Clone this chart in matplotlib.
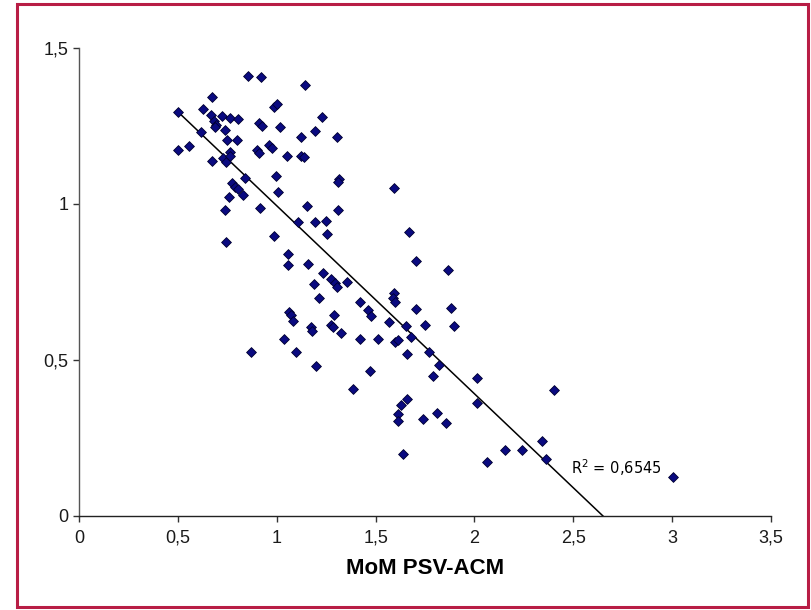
import matplotlib
matplotlib.use("Agg")
from matplotlib import pyplot as plt
from matplotlib.patches import Rectangle

# valores (MoM PSV-ACM en x, eje y sin título)
mom_psv_acm = [
    0.855, 0.921, 1.143, 0.673, 0.501, 0.627, 0.668, 0.683, 0.693, 0.688,
    0.723, 0.764, 0.804, 0.738, 0.617, 0.749, 0.799, 0.501, 0.556, 0.673,
    0.728, 0.744, 0.764, 0.764, 0.986, 1.002, 0.910, 0.926, 1.017, 1.229,
    1.194, 1.123, 1.305, 0.900, 0.910, 0.961, 0.976, 1.052, 1.123, 1.138,
    0.840, 0.774, 0.789, 0.804, 0.830, 0.759, 0.738, 0.916, 0.996, 1.007,
    1.153, 1.315, 1.310, 1.310, 1.108, 1.194, 1.249, 1.254, 0.986, 0.744,
    1.593, 1.669, 1.057, 1.057, 1.158, 1.234, 1.275, 1.295, 1.305, 1.356,
    1.189, 1.214, 1.705, 1.866, 1.593, 1.588, 1.598, 1.421, 1.462, 1.477,
    1.705, 1.882, 1.062, 1.072, 1.082, 1.290, 1.568, 1.654, 1.750, 1.897,
    1.173, 1.179, 1.275, 1.285, 1.325, 1.679, 1.037, 1.421, 1.512, 1.598,
    1.614, 1.659, 1.770, 1.098, 0.870, 1.199, 1.472, 1.821, 1.791, 2.013,
    1.386, 1.659, 1.629, 1.614, 1.614, 1.740, 1.811, 1.856, 1.639, 2.013,
    2.403, 2.064, 2.155, 2.241, 2.342, 2.362, 3.005,
]
y_values = [
    1.410, 1.407, 1.381, 1.343, 1.295, 1.304, 1.285, 1.266, 1.253, 1.247,
    1.282, 1.276, 1.272, 1.237, 1.231, 1.205, 1.205, 1.173, 1.186, 1.138,
    1.147, 1.135, 1.167, 1.154, 1.311, 1.321, 1.260, 1.250, 1.247, 1.279,
    1.234, 1.215, 1.215, 1.173, 1.163, 1.189, 1.179, 1.154, 1.154, 1.151,
    1.083, 1.067, 1.054, 1.048, 1.029, 1.022, 0.981, 0.987, 1.090, 1.038,
    0.994, 1.080, 1.071, 0.981, 0.942, 0.942, 0.946, 0.904, 0.897, 0.878,
    1.051, 0.910, 0.840, 0.804, 0.808, 0.779, 0.760, 0.747, 0.734, 0.750,
    0.744, 0.699, 0.817, 0.788, 0.715, 0.699, 0.686, 0.686, 0.660, 0.641,
    0.663, 0.667, 0.654, 0.644, 0.625, 0.644, 0.622, 0.609, 0.612, 0.609,
    0.606, 0.593, 0.612, 0.606, 0.587, 0.574, 0.567, 0.567, 0.567, 0.558,
    0.564, 0.519, 0.526, 0.526, 0.526, 0.481, 0.465, 0.484, 0.449, 0.442,
    0.407, 0.375, 0.356, 0.327, 0.304, 0.311, 0.330, 0.298, 0.199, 0.362,
    0.404, 0.173, 0.212, 0.212, 0.240, 0.183, 0.125,
]

# recta de tendencia
trend_slope = -0.6026
trend_intercept = 1.597
r2_label = r"R$^2$ = 0,6545"

x_ticks = [0, 0.5, 1, 1.5, 2, 2.5, 3, 3.5]
x_tick_labels = ["0", "0,5", "1", "1,5", "2", "2,5", "3", "3,5"]
y_ticks = [0, 0.5, 1, 1.5]
y_tick_labels = ["0", "0,5", "1", "1,5"]

plt.rcParams["font.family"] = ["Liberation Sans", "DejaVu Sans"]

fig = plt.figure(figsize=(8.11, 6.10), dpi=100)
fig.patch.set_facecolor("white")

# marco rojo alrededor del gráfico
frame = Rectangle((17 / 811, 3 / 610), 791 / 811, 603 / 610, transform=fig.transFigure,
                  fill=False, edgecolor="#b81d45", linewidth=2.2)
fig.patches.append(frame)

ax = fig.add_axes([79 / 811, 94 / 610, 692 / 811, 468 / 610])

ax.scatter(mom_psv_acm, y_values, marker="D", s=25, color="#0a0a80",
           edgecolors="#000030", linewidths=0.6, zorder=3)

x_min, x_max = min(mom_psv_acm), max(mom_psv_acm)
ax.plot([x_min, x_max], [trend_intercept + trend_slope * x_min, trend_intercept + trend_slope * x_max],
        color="black", linewidth=1.1, zorder=2)

ax.text(2.49, 0.155, r2_label, fontsize=10.5, family="DejaVu Sans", va="center", ha="left")

ax.set_xlim(0, 3.5)
ax.set_ylim(0, 1.5)
ax.set_xticks(x_ticks)
ax.set_xticklabels(x_tick_labels)
ax.set_yticks(y_ticks)
ax.set_yticklabels(y_tick_labels)
ax.tick_params(axis="both", labelsize=13, length=4, width=1, direction="out",
               colors="#333333", labelcolor="#1a1a1a")
ax.tick_params(axis="x", pad=6)
ax.set_xlabel("MoM PSV-ACM", fontsize=16, fontweight="bold", labelpad=8)

for side in ["top", "right"]:
    ax.spines[side].set_visible(False)
ax.spines["left"].set_color("#555555")
ax.spines["bottom"].set_color("#222222")
ax.spines["left"].set_linewidth(1.0)
ax.spines["bottom"].set_linewidth(1.0)

fig.savefig("out.png", dpi=100)
